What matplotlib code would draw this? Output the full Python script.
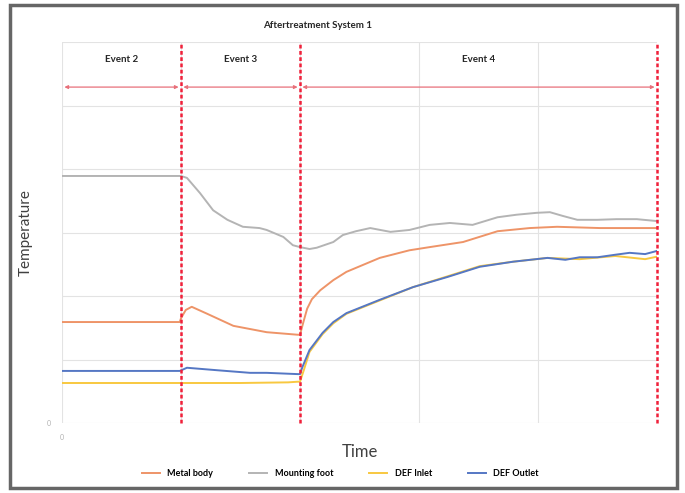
import matplotlib.pyplot as plt
import matplotlib.patches as patches

plt.rcParams['font.family'] = ['Lato', 'DejaVu Sans']

# data (x in time units, y in temperature units)
metal_t = [0, 0.99, 1.0, 1.04, 1.09, 1.22, 1.44, 1.72, 1.98, 2.0, 2.03, 2.06, 2.10, 2.17, 2.28, 2.39,
           2.67, 2.92, 3.09, 3.37, 3.66, 3.93, 4.16, 4.52, 4.94, 5.0]
metal_v = [1.59, 1.59, 1.65, 1.78, 1.83, 1.72, 1.53, 1.43, 1.39, 1.39, 1.60, 1.80, 1.95, 2.09, 2.25,
           2.38, 2.60, 2.72, 2.77, 2.85, 3.02, 3.07, 3.09, 3.07, 3.07, 3.07]

foot_t = [0, 1.0, 1.05, 1.16, 1.27, 1.39, 1.52, 1.66, 1.72, 1.86, 1.94, 2.0, 2.08, 2.14, 2.28, 2.36,
          2.47, 2.59, 2.76, 2.92, 3.09, 3.26, 3.45, 3.66, 3.82, 3.99, 4.10, 4.21, 4.33, 4.50, 4.66,
          4.83, 5.0]
foot_v = [3.89, 3.89, 3.86, 3.62, 3.35, 3.20, 3.09, 3.07, 3.04, 2.93, 2.80, 2.77, 2.74, 2.76, 2.85,
          2.96, 3.02, 3.07, 3.01, 3.04, 3.12, 3.15, 3.12, 3.24, 3.28, 3.31, 3.32, 3.26, 3.20, 3.20,
          3.21, 3.21, 3.18]

inlet_t = [0, 1.0, 1.5, 1.9, 1.98, 2.0, 2.03, 2.08, 2.19, 2.28, 2.39, 2.67, 2.95, 3.24, 3.51, 3.79,
           4.08, 4.35, 4.65, 4.90, 5.0]
inlet_v = [0.63, 0.63, 0.63, 0.64, 0.65, 0.65, 0.82, 1.12, 1.40, 1.57, 1.72, 1.93, 2.14, 2.31, 2.47,
           2.54, 2.60, 2.58, 2.63, 2.58, 2.62]

outlet_t = [0, 0.99, 1.05, 1.31, 1.58, 1.72, 1.98, 2.0, 2.02, 2.08, 2.19, 2.28, 2.39, 2.67, 2.95,
            3.24, 3.51, 3.79, 4.08, 4.23, 4.35, 4.50, 4.65, 4.77, 4.90, 5.0]
outlet_v = [0.82, 0.82, 0.87, 0.83, 0.79, 0.79, 0.77, 0.77, 0.88, 1.15, 1.42, 1.59, 1.73, 1.94,
            2.14, 2.30, 2.46, 2.54, 2.60, 2.57, 2.61, 2.61, 2.65, 2.68, 2.66, 2.71]

event_bounds = [0, 1, 2, 5]
event_labels = ['Event 2', 'Event 3', 'Event 4']
series_labels = ['Metal body', 'Mounting foot', 'DEF Inlet', 'DEF Outlet']
series_colors = ['#EE9468', '#B4B4B4', '#F8C840', '#5577C4']
x_ticks = [0, 1, 2, 3, 4, 5]
x_ticklabels = ['0', '', '', '', '', '']
y_ticks = [0, 1, 2, 3, 4, 5, 6]
y_ticklabels = ['0', '', '', '', '', '', '']

ARROW_Y, LABEL_Y = 5.29, 5.72

fig = plt.figure(figsize=(6.85, 4.93), dpi=100)
fig.patches.append(patches.Rectangle((10 / 685, 5 / 493), 667 / 685, 483 / 493, transform=fig.transFigure,
                                     fill=False, edgecolor='#666666', linewidth=2.5))
ax = fig.add_axes([62 / 685, 70 / 493, 595 / 685, 381 / 493])

lines = []
for t, v, c in [(metal_t, metal_v, series_colors[0]), (foot_t, foot_v, series_colors[1]),
                (inlet_t, inlet_v, series_colors[2]), (outlet_t, outlet_v, series_colors[3])]:
    ln, = ax.plot(t, v, color=c, linewidth=1.4)
    lines.append(ln)

for xb in event_bounds[1:]:
    ax.axvline(xb, color='#F0203A', linewidth=1.8, linestyle=(0, (1.5, 1)), zorder=5, clip_on=False)

for i, lab in enumerate(event_labels):
    x0, x1 = event_bounds[i], event_bounds[i + 1]
    ax.annotate('', xy=(x0 + 0.02, ARROW_Y), xytext=(x1 - 0.02, ARROW_Y),
                arrowprops=dict(arrowstyle='<|-|>', color='#E8707A', lw=0.9, mutation_scale=5,
                                shrinkA=0, shrinkB=0))
    ax.text((x0 + x1) / 2, LABEL_Y, lab, ha='center', va='center', fontsize=7, fontweight='bold',
            color='#262626')

ax.set_xlim(0, 5)
ax.set_ylim(0, 6)
ax.set_xticks(x_ticks)
ax.set_xticklabels(x_ticklabels)
ax.set_yticks(y_ticks)
ax.set_yticklabels(y_ticklabels)
ax.tick_params(length=0, labelsize=5, labelcolor='#B0B0B0', pad=8)
ax.grid(True, color='#E3E3E3', linewidth=0.8)
for s in ax.spines.values():
    s.set_visible(False)

ax.set_xlabel('Time', fontsize=12, color='#404040', labelpad=2)
ax.set_ylabel('Temperature', fontsize=11, color='#404040', labelpad=10)
ax.set_title('Aftertreatment System 1', fontsize=7, fontweight='bold', color='#262626', x=0.43, pad=10)

fig.legend(lines, series_labels, loc='center', bbox_to_anchor=(0.497, 0.04), ncol=4, frameon=False,
           handlelength=2.0, columnspacing=4.0, prop={'weight': 'bold', 'size': 6.5})

fig.savefig('out.png', dpi=100)
